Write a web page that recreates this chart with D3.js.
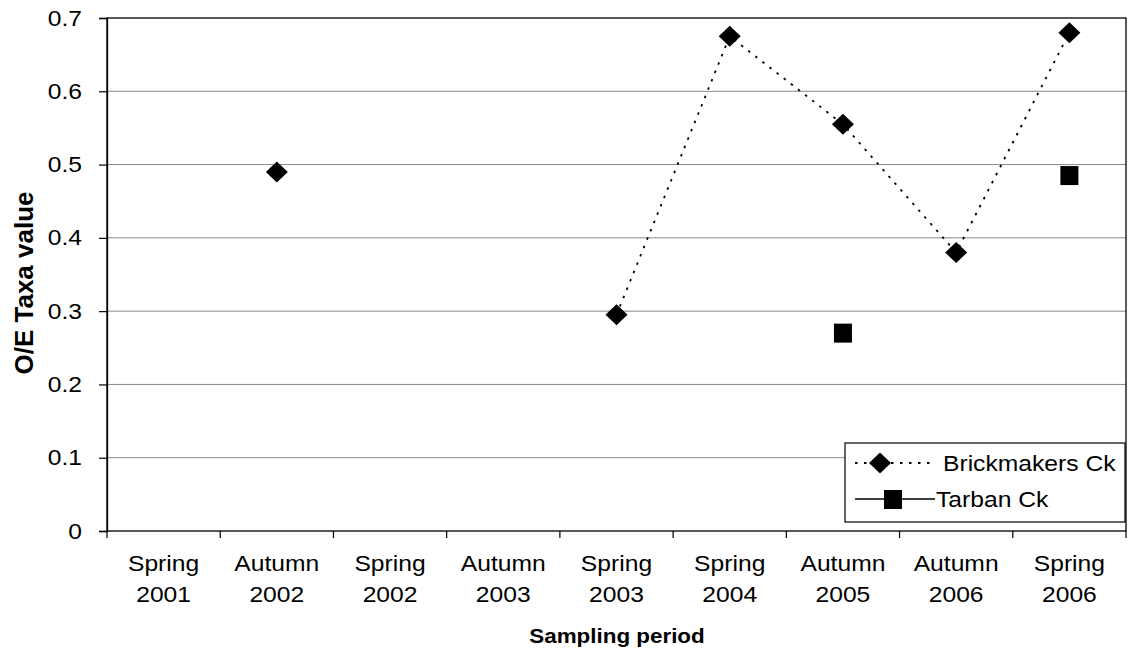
<!DOCTYPE html>
<html><head><meta charset="utf-8">
<script src="https://cdn.jsdelivr.net/npm/d3@7"></script>
<style>body{margin:0;background:#fff;} text{font-family:"Liberation Sans",Arial,sans-serif;}</style>
</head><body>
<svg id="c" width="1131" height="653"></svg>
<script>
const categories = ["Spring 2001","Autumn 2002","Spring 2002","Autumn 2003","Spring 2003","Spring 2004","Autumn 2005","Autumn 2006","Spring 2006"];
const brickmakers = [null, 0.49, null, null, 0.295, 0.675, 0.555, 0.38, 0.68];
const tarban = [null, null, null, null, null, null, 0.27, null, 0.485];
const yTicks = [0, 0.1, 0.2, 0.3, 0.4, 0.5, 0.6, 0.7];
const seriesNames = ["Brickmakers Ck", "Tarban Ck"];

const FONT = "Liberation Sans, Arial, sans-serif";
const svg = d3.select("#c");
const L = 107, R = 1126, T = 18, B = 531;
const x = d3.scaleBand().domain(categories).range([L, R]);
const y = d3.scaleLinear().domain([0, 0.7]).range([B, T]);

// widen glyphs horizontally like the scanned original
function stretch(sel, k) {
  sel.each(function () {
    const w = this.getComputedTextLength();
    d3.select(this).attr("textLength", w * k).attr("lengthAdjust", "spacingAndGlyphs");
  });
}

// gridlines
svg.append("g").selectAll("line").data(yTicks.filter(d => d > 0 && d < 0.7)).join("line")
  .attr("x1", L).attr("x2", R).attr("y1", d => y(d)).attr("y2", d => y(d))
  .attr("stroke", "#888").attr("stroke-width", 1);

// box
svg.append("rect").attr("x", L).attr("y", T).attr("width", R - L).attr("height", B - T)
  .attr("fill", "none").attr("stroke", "#000").attr("stroke-width", 1.3);

// y axis
const yAxis = svg.append("g").attr("transform", `translate(${L},0)`)
  .call(d3.axisLeft(y).tickValues(yTicks).tickSize(8).tickPadding(17).tickFormat(d => d === 0 ? "0" : d3.format(".1f")(d)));
yAxis.select(".domain").attr("stroke", "#000").attr("stroke-width", 1.3);
yAxis.selectAll(".tick line").attr("stroke", "#000").attr("stroke-width", 1.2);
yAxis.selectAll("text").attr("font-size", 22).attr("fill", "#000").attr("font-family", FONT);
stretch(yAxis.selectAll("text"), 1.12);

// x axis ticks at band boundaries
const bounds = categories.map(c => x(c)).concat([R]);
svg.append("g").selectAll("line").data(bounds).join("line")
  .attr("x1", d => d).attr("x2", d => d).attr("y1", B).attr("y2", B + 7)
  .attr("stroke", "#000").attr("stroke-width", 1.2);

// x labels (two lines)
const xlg = svg.append("g");
const l1 = xlg.selectAll("text.l1").data(categories).join("text").attr("class", "l1")
  .attr("x", d => x(d) + x.bandwidth() / 2).attr("y", 571)
  .attr("text-anchor", "middle").attr("font-size", 22).attr("fill", "#000").text(d => d.split(" ")[0]);
const l2 = xlg.selectAll("text.l2").data(categories).join("text").attr("class", "l2")
  .attr("x", d => x(d) + x.bandwidth() / 2).attr("y", 602)
  .attr("text-anchor", "middle").attr("font-size", 22).attr("fill", "#000").text(d => d.split(" ")[1]);
stretch(l1, 1.12); stretch(l2, 1.12);

// axis titles
const xt = svg.append("text").attr("x", 617).attr("y", 643).attr("text-anchor", "middle")
  .attr("font-size", 20).attr("font-weight", "bold").text("Sampling period");
stretch(xt, 1.12);
svg.append("text").attr("transform", "translate(33,283) rotate(-90)").attr("text-anchor", "middle")
  .attr("font-size", 26).attr("font-weight", "bold").text("O/E Taxa value");

const cx = i => x(categories[i]) + x.bandwidth() / 2;

// lines (break at missing values)
const line = d3.line().defined(d => d.v != null).x(d => cx(d.i)).y(d => y(d.v));
svg.append("path").datum(brickmakers.map((v, i) => ({v, i})))
  .attr("d", line).attr("fill", "none").attr("stroke", "#000").attr("stroke-width", 1.8)
  .attr("stroke-dasharray", "2.5,6.5");
svg.append("path").datum(tarban.map((v, i) => ({v, i})))
  .attr("d", line).attr("fill", "none").attr("stroke", "#000").attr("stroke-width", 1.5);

const diamond = (px, py, sx, sy) => `M${px},${py - sy}L${px + sx},${py}L${px},${py + sy}L${px - sx},${py}Z`;
svg.append("g").selectAll("path").data(brickmakers.map((v, i) => ({v, i})).filter(d => d.v != null)).join("path")
  .attr("d", d => diamond(cx(d.i), y(d.v), 11, 10.5)).attr("fill", "#000");
svg.append("g").selectAll("rect").data(tarban.map((v, i) => ({v, i})).filter(d => d.v != null)).join("rect")
  .attr("x", d => cx(d.i) - 9).attr("y", d => y(d.v) - 9.5).attr("width", 18).attr("height", 19).attr("fill", "#000");

// legend
const lg = svg.append("g");
lg.append("rect").attr("x", 845).attr("y", 443).attr("width", 280).attr("height", 79)
  .attr("fill", "#fff").attr("stroke", "#000").attr("stroke-width", 1.2);
lg.append("line").attr("x1", 855).attr("x2", 935).attr("y1", 463).attr("y2", 463)
  .attr("stroke", "#000").attr("stroke-width", 1.8).attr("stroke-dasharray", "2.5,6.5");
lg.append("path").attr("d", diamond(880, 463, 11, 10.5)).attr("fill", "#000");
lg.append("line").attr("x1", 855).attr("x2", 935).attr("y1", 499).attr("y2", 499)
  .attr("stroke", "#000").attr("stroke-width", 1.5);
lg.append("rect").attr("x", 884).attr("y", 490).attr("width", 18).attr("height", 19).attr("fill", "#000");
const lt1 = lg.append("text").attr("x", 943).attr("y", 471).attr("font-size", 22).text(seriesNames[0]);
const lt2 = lg.append("text").attr("x", 936).attr("y", 507).attr("font-size", 22).text(seriesNames[1]);
stretch(lt1, 1.12); stretch(lt2, 1.12);
</script>
</body></html>
